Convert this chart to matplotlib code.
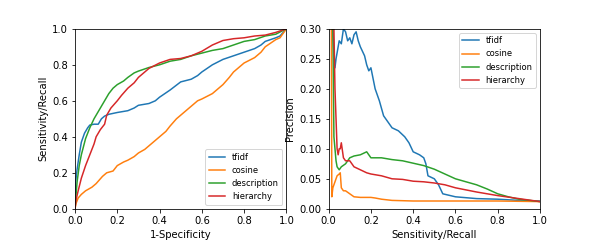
import matplotlib
matplotlib.use("Agg")
import matplotlib.pyplot as plt

etiquetas = ["tfidf", "cosine", "description", "hierarchy"]

# curvas ROC (1-especificidad, sensibilidad)
roc_tfidf_x = [0, 0.003, 0.01, 0.02, 0.03, 0.045, 0.06, 0.07, 0.09, 0.11, 0.125, 0.14, 0.16, 0.2, 0.25, 0.28,
               0.3, 0.35, 0.38, 0.4, 0.45, 0.5, 0.55, 0.58, 0.6, 0.65, 0.7, 0.75, 0.8, 0.85, 0.88, 0.9, 0.95, 0.97, 1.0]
roc_tfidf_y = [0, 0.15, 0.22, 0.3, 0.37, 0.42, 0.45, 0.465, 0.47, 0.47, 0.5, 0.515, 0.525, 0.535, 0.545, 0.56,
               0.575, 0.585, 0.6, 0.62, 0.66, 0.705, 0.72, 0.74, 0.76, 0.8, 0.83, 0.85, 0.87, 0.89, 0.91, 0.93, 0.95, 0.96, 1.0]

roc_cos_x = [0, 0.005, 0.015, 0.03, 0.05, 0.08, 0.1, 0.13, 0.15, 0.18, 0.2, 0.23, 0.25, 0.28, 0.3, 0.33, 0.35,
             0.4, 0.43, 0.45, 0.48, 0.5, 0.55, 0.58, 0.6, 0.65, 0.7, 0.73, 0.75, 0.8, 0.85, 0.88, 0.9, 0.95, 0.97, 1.0]
roc_cos_y = [0, 0.03, 0.06, 0.08, 0.1, 0.12, 0.14, 0.18, 0.2, 0.21, 0.24, 0.26, 0.27, 0.29, 0.31, 0.33, 0.35,
             0.4, 0.43, 0.46, 0.5, 0.52, 0.57, 0.6, 0.61, 0.64, 0.69, 0.73, 0.76, 0.81, 0.84, 0.87, 0.9, 0.94, 0.95, 1.0]

roc_desc_x = [0, 0.005, 0.01, 0.02, 0.03, 0.05, 0.07, 0.09, 0.1, 0.12, 0.14, 0.16, 0.18, 0.2, 0.23, 0.25, 0.28,
              0.3, 0.35, 0.4, 0.45, 0.5, 0.55, 0.6, 0.65, 0.7, 0.75, 0.8, 0.85, 0.9, 0.95, 1.0]
roc_desc_y = [0, 0.08, 0.15, 0.24, 0.3, 0.39, 0.45, 0.5, 0.52, 0.56, 0.6, 0.64, 0.67, 0.69, 0.71, 0.73, 0.755,
              0.765, 0.785, 0.80, 0.82, 0.83, 0.85, 0.865, 0.88, 0.89, 0.91, 0.93, 0.94, 0.96, 0.97, 1.0]

roc_hier_x = [0, 0.005, 0.015, 0.03, 0.05, 0.07, 0.09, 0.1, 0.12, 0.14, 0.15, 0.17, 0.2, 0.22, 0.25, 0.28,
              0.3, 0.33, 0.35, 0.4, 0.45, 0.5, 0.55, 0.6, 0.65, 0.7, 0.75, 0.8, 0.85, 0.9, 0.95, 1.0]
roc_hier_y = [0, 0.05, 0.1, 0.17, 0.24, 0.3, 0.36, 0.4, 0.44, 0.47, 0.52, 0.56, 0.6, 0.63, 0.67, 0.7,
              0.73, 0.76, 0.78, 0.81, 0.83, 0.835, 0.85, 0.875, 0.91, 0.935, 0.945, 0.95, 0.96, 0.965, 0.98, 1.0]

# curvas precision-recall
pr_tfidf_x = [0, 0.015, 0.02, 0.025, 0.03, 0.035, 0.04, 0.05, 0.06, 0.07, 0.08, 0.09, 0.1, 0.11, 0.12, 0.13,
              0.14, 0.15, 0.17, 0.18, 0.19, 0.2, 0.22, 0.24, 0.26, 0.28, 0.3, 0.33, 0.36, 0.38, 0.4, 0.43, 0.45,
              0.46, 0.47, 0.5, 0.52, 0.54, 0.6, 0.7, 0.8, 0.9, 1.0]
pr_tfidf_y = [1.0, 0.5, 0.3, 0.26, 0.235, 0.25, 0.26, 0.28, 0.275, 0.3, 0.295, 0.28, 0.285, 0.275, 0.29, 0.295,
              0.28, 0.27, 0.255, 0.24, 0.23, 0.235, 0.2, 0.18, 0.155, 0.145, 0.135, 0.13, 0.12, 0.11, 0.095, 0.09, 0.085,
              0.075, 0.055, 0.05, 0.04, 0.025, 0.02, 0.017, 0.016, 0.014, 0.013]

pr_cos_x = [0, 0.01, 0.013, 0.015, 0.02, 0.03, 0.04, 0.05, 0.055, 0.06, 0.07, 0.08, 0.1, 0.12, 0.15, 0.2,
            0.22, 0.25, 0.3, 0.4, 0.5, 0.6, 0.8, 1.0]
pr_cos_y = [1.0, 0.6, 0.3, 0.02, 0.035, 0.045, 0.055, 0.058, 0.06, 0.035, 0.03, 0.03, 0.025, 0.02, 0.019, 0.019,
            0.018, 0.016, 0.014, 0.013, 0.013, 0.013, 0.013, 0.012]

pr_desc_x = [0, 0.015, 0.02, 0.025, 0.03, 0.035, 0.04, 0.05, 0.06, 0.08, 0.1, 0.12, 0.15, 0.18, 0.19, 0.2,
             0.25, 0.3, 0.35, 0.4, 0.45, 0.5, 0.55, 0.6, 0.65, 0.7, 0.75, 0.8, 0.85, 0.9, 0.95, 1.0]
pr_desc_y = [1.0, 0.4, 0.3, 0.12, 0.1, 0.08, 0.07, 0.065, 0.07, 0.075, 0.085, 0.088, 0.09, 0.095, 0.09, 0.085,
             0.085, 0.082, 0.08, 0.076, 0.072, 0.066, 0.058, 0.05, 0.045, 0.04, 0.033, 0.025, 0.02, 0.016, 0.014, 0.012]

pr_hier_x = [0, 0.02, 0.025, 0.03, 0.035, 0.04, 0.045, 0.05, 0.055, 0.06, 0.07, 0.08, 0.1, 0.12, 0.15, 0.18,
             0.2, 0.25, 0.3, 0.35, 0.4, 0.45, 0.5, 0.55, 0.6, 0.7, 0.8, 0.9, 1.0]
pr_hier_y = [1.0, 0.5, 0.3, 0.2, 0.15, 0.1, 0.09, 0.1, 0.1, 0.11, 0.085, 0.08, 0.08, 0.07, 0.065, 0.06,
             0.058, 0.055, 0.05, 0.049, 0.046, 0.045, 0.043, 0.04, 0.035, 0.028, 0.022, 0.017, 0.012]

fig, (ax1, ax2) = plt.subplots(1, 2, figsize=(600 / 72, 240 / 72), dpi=72)
fig.subplots_adjust(left=0.125, right=0.9, top=0.88, bottom=0.13, wspace=0.2)

ax1.plot(roc_tfidf_x, roc_tfidf_y, label=etiquetas[0])
ax1.plot(roc_cos_x, roc_cos_y, label=etiquetas[1])
ax1.plot(roc_desc_x, roc_desc_y, label=etiquetas[2])
ax1.plot(roc_hier_x, roc_hier_y, label=etiquetas[3])
ax1.set_xlim(0, 1)
ax1.set_ylim(0, 1)
ax1.set_xlabel("1-Specificity")
ax1.set_ylabel("Sensitivity/Recall")
ax1.legend(loc="lower right", fontsize="small")

ax2.plot(pr_tfidf_x, pr_tfidf_y, label=etiquetas[0])
ax2.plot(pr_cos_x, pr_cos_y, label=etiquetas[1])
ax2.plot(pr_desc_x, pr_desc_y, label=etiquetas[2])
ax2.plot(pr_hier_x, pr_hier_y, label=etiquetas[3])
ax2.set_xlim(0, 1)
ax2.set_ylim(0, 0.3)
ax2.set_xlabel("Sensitivity/Recall")
ax2.set_ylabel("Precision")
ax2.legend(loc="upper right", fontsize="small")

fig.savefig("out.png", dpi=72)
